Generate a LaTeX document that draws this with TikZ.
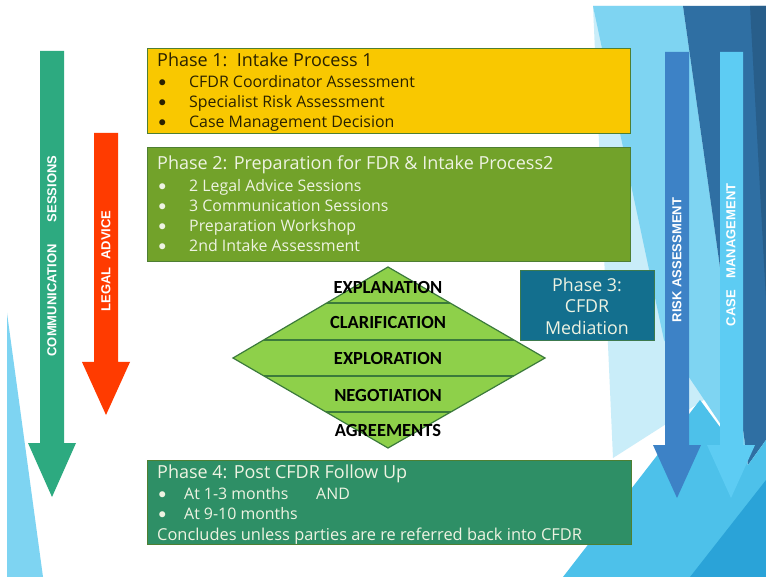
\documentclass[tikz,border=0pt]{standalone}
\usepackage{fontspec}
\setmainfont{Open Sans}
\newfontfamily\arialfont{Liberation Sans}
\newfontfamily\calfont{Carlito}
\definecolor{bgpale}{HTML}{C9EDF9}
\definecolor{bglight}{HTML}{7ED4F2}
\definecolor{bgdark}{HTML}{2F6FA3}
\definecolor{bgcyan}{HTML}{4DC1EA}
\definecolor{bgcyandk}{HTML}{2AA3D8}
\definecolor{pOne}{HTML}{F9C800}
\definecolor{pTwo}{HTML}{72A22A}
\definecolor{pThree}{HTML}{136F8E}
\definecolor{pFour}{HTML}{2E8F66}
\definecolor{boxedge}{HTML}{4E7F33}
\definecolor{diafill}{HTML}{8ED04A}
\definecolor{diaedge}{HTML}{3B7A3B}
\definecolor{commcol}{HTML}{2DAA80}
\definecolor{legalcol}{HTML}{FF3B00}
\definecolor{riskcol}{HTML}{3D82C6}
\definecolor{casecol}{HTML}{5DCCF3}
\definecolor{darktext}{HTML}{2A2200}
\definecolor{lighttext}{HTML}{EEF3E2}
\tikzset{
  phasebox/.style={draw=boxedge, line width=1.2pt, rectangle, inner sep=0pt, anchor=north west},
  ltxt/.style={anchor=base west, inner sep=0pt, font=\fontsize{15.9}{18}\selectfont},
  btxt/.style={anchor=base west, inner sep=0pt, font=\calfont\fontsize{17}{18}\selectfont},
  ttxt/.style={anchor=base west, inner sep=0pt, font=\fontsize{18}{20}\selectfont},
  dtxt/.style={anchor=center, inner sep=0pt, font=\calfont\bfseries\fontsize{18.5}{20}\selectfont, text=black},
  arrtxt/.style={anchor=center, inner sep=0pt, rotate=90, text=white, font=\arialfont\bfseries\fontsize{13}{15}\selectfont}
}
\begin{document}
\begin{tikzpicture}[x=1pt,y=-1pt]
\useasboundingbox (0,0) rectangle (766,577);
\fill[white] (0,0) rectangle (766,577);
% background facets
\fill[bgpale] (593,6) -- (690,6) -- (735,380) -- (613,458) -- cycle;
\fill[bglight] (593,6) -- (683,6) -- (748,465) -- (664,340) -- cycle;
\fill[bgdark] (683,6) -- (766,6) -- (766,440) -- (748,465) -- cycle;
\fill[bgdark!85!black] (750,6) -- (766,6) -- (766,300) -- cycle;
\fill[bgcyan] (563,577) -- (700,400) -- (748,465) -- (766,440) -- (766,577) -- cycle;
\fill[bgcyandk] (690,577) -- (766,480) -- (766,577) -- cycle;
\fill[bglight] (7,313) -- (43,577) -- (7,577) -- cycle;
% arrows left
\fill[commcol] (40,51) -- (64,51) -- (64,443) -- (76,443) -- (52,497) -- (28,443) -- (40,443) -- cycle;
\fill[legalcol] (94,133) -- (118,133) -- (118,362) -- (130,362) -- (106,415) -- (82,362) -- (94,362) -- cycle;
% arrows right
\fill[riskcol] (665,52) -- (689,52) -- (689,445) -- (701,445) -- (677,498) -- (653,445) -- (665,445) -- cycle;
\fill[casecol] (720,52) -- (743,52) -- (743,445) -- (755,445) -- (731,498) -- (707,445) -- (720,445) -- cycle;
\node[arrtxt] (comm) at (52,256) {COMMUNICATION\hspace{22pt}SESSIONS};
\node[arrtxt] (legal) at (106,261) {LEGAL\hspace{8pt}ADVICE};
\node[arrtxt] (risk) at (677,260) {RISK ASSESSMENT};
\node[arrtxt] (case) at (731,255) {CASE\hspace{12pt}MANAGEMENT};
% phase 1
\node[phasebox, fill=pOne, minimum width=483pt, minimum height=85pt] (p1) at (147,48) {};
\node[ttxt, text=darktext] (p1t) at (157,67) {Phase 1:\ \ Intake Process 1};
\foreach \y/\t [count=\i] in {88/CFDR Coordinator Assessment,108/Specialist Risk Assessment,128/Case Management Decision}{
  \node[btxt, text=darktext] (p1b\i) at (158,\y) {•};
  \node[ltxt, text=darktext] (p1i\i) at (189,\y) {\t};
}
% phase 2
\node[phasebox, fill=pTwo, minimum width=483pt, minimum height=114pt] (p2) at (147,147) {};
\node[ttxt, text=lighttext] (p2t) at (157,170) {Phase 2: Preparation for FDR \& Intake Process2};
\foreach \y/\t [count=\i] in {192/2 Legal Advice Sessions,212/3 Communication Sessions,232/Preparation Workshop,252/2nd Intake Assessment}{
  \node[btxt, text=lighttext] (p2b\i) at (158,\y) {•};
  \node[ltxt, text=lighttext] (p2i\i) at (189,\y) {\t};
}
% diamond
\path[fill=diafill] (388,267) -- (545,358) -- (388,448) -- (233,358) -- cycle;
\begin{scope}
\clip (388,267) -- (545,358) -- (388,448) -- (233,358) -- cycle;
\foreach \y in {303,340,376,412}{\draw[diaedge, line width=1.2pt] (220,\y) -- (560,\y);}
\end{scope}
\draw[diaedge, line width=1.2pt] (388,267) -- (545,358) -- (388,448) -- (233,358) -- cycle;
\node[dtxt] (d1) at (388,287) {EXPLANATION};
\node[dtxt] (d2) at (388,322) {CLARIFICATION};
\node[dtxt] (d3) at (388,358) {EXPLORATION};
\node[dtxt] (d4) at (388,395) {NEGOTIATION};
\node[dtxt] (d5) at (388,430) {AGREEMENTS};
% phase 3
\node[phasebox, fill=pThree, draw=boxedge!70!pThree, minimum width=134pt, minimum height=70pt] (p3) at (520,270) {};
\node[anchor=center, inner sep=0pt, align=center, text=lighttext, font=\fontsize{17.8}{21.5}\selectfont] (p3t) at (587,306) {Phase 3:\\CFDR\\Mediation};
% phase 4
\node[phasebox, fill=pFour, minimum width=484pt, minimum height=84pt] (p4) at (147,460) {};
\node[ttxt, text=lighttext] (p4t) at (157,478) {Phase 4: Post CFDR Follow Up};
\node[btxt, text=lighttext] (p4b1) at (158,499) {•};
\node[ltxt, text=lighttext] (p4i1) at (184,499) {At 1-3 months};
\node[ltxt, text=lighttext] (p4and) at (316,499) {AND};
\node[btxt, text=lighttext] (p4b2) at (158,519) {•};
\node[ltxt, text=lighttext] (p4i2) at (184,519) {At 9-10 months};
\node[ltxt, text=lighttext, font=\fontsize{16.4}{18}\selectfont] (p4c) at (157,540) {Concludes unless parties are re referred back into CFDR};
\end{tikzpicture}
\end{document}
